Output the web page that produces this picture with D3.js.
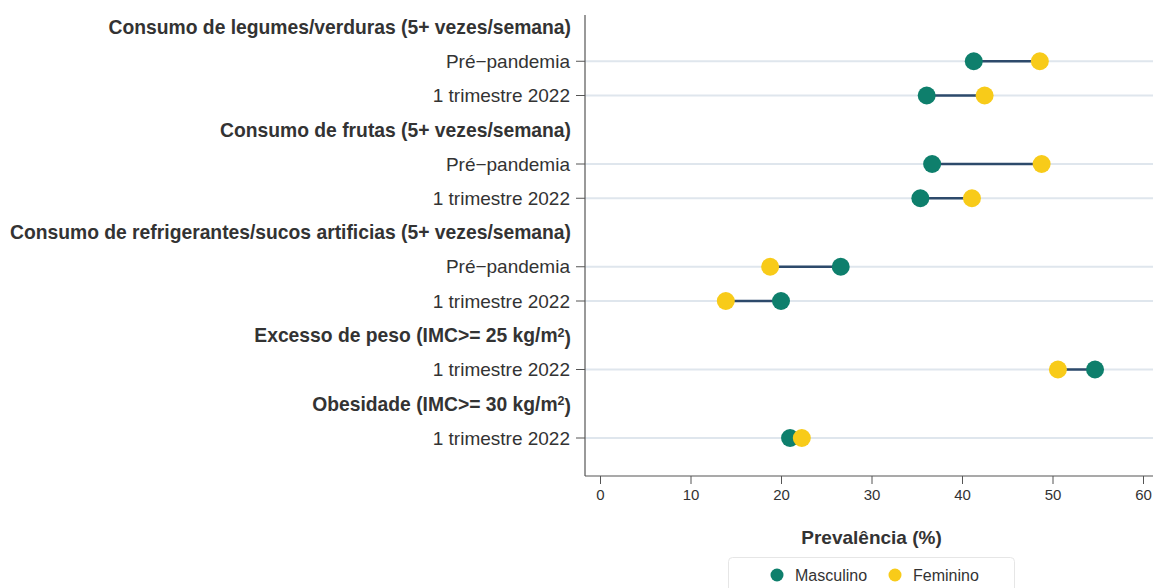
<!DOCTYPE html>
<html>
<head>
<meta charset="utf-8">
<script src="https://cdn.jsdelivr.net/npm/d3@7"></script>
<style>
  body { margin: 0; background: #fff; }
  text { font-family: "Liberation Sans", Arial, sans-serif; fill: #333; }
</style>
</head>
<body>
<svg width="1153" height="588"></svg>
<script>
// rows from top to bottom; headers have no values
const rowKeys = ["h1", "r1", "r2", "h2", "r3", "r4", "h3", "r5", "r6", "h4", "r7", "h5", "r8"];
const rowLabels = [
  "Consumo de legumes/verduras (5+ vezes/semana)", "Pré\u2212pandemia", "1 trimestre 2022",
  "Consumo de frutas (5+ vezes/semana)", "Pré\u2212pandemia", "1 trimestre 2022",
  "Consumo de refrigerantes/sucos artificias (5+ vezes/semana)", "Pré\u2212pandemia", "1 trimestre 2022",
  "Excesso de peso (IMC>= 25 kg/m²)", "1 trimestre 2022",
  "Obesidade (IMC>= 30 kg/m²)", "1 trimestre 2022"
];
const isHeader = [true, false, false, true, false, false, true, false, false, true, false, true, false];
const dataRows = ["r1", "r2", "r3", "r4", "r5", "r6", "r7", "r8"];
const masculino = [41.3, 36.1, 36.7, 35.4, 26.6, 20.0, 54.7, 21.0];
const feminino  = [48.6, 42.5, 48.8, 41.1, 18.8, 13.9, 50.6, 22.3];
const xTicks = [0, 10, 20, 30, 40, 50, 60];

const green = "#0e7f6c", yellow = "#f8cb19", segColor = "#2d4a6b";

const svg = d3.select("svg");
const xScale = d3.scaleLinear().domain([0, 60]).range([600, 1143]);
const yScale = d3.scalePoint().domain(rowKeys).range([27, 438]);
const left = 585, bottom = 476;

// gridlines for data rows
svg.selectAll("line.grid")
  .data(dataRows)
  .join("line")
  .attr("class", "grid")
  .attr("x1", left).attr("x2", 1153)
  .attr("y1", d => yScale(d)).attr("y2", d => yScale(d))
  .attr("stroke", "#dfe6ed")
  .attr("stroke-width", 2);

// y labels; the "²" is split off into a raised tspan
svg.selectAll("text.ylab")
  .data(rowKeys)
  .join("text")
  .attr("class", "ylab")
  .attr("x", (d, i) => isHeader[i] ? 571 : 570)
  .attr("y", d => yScale(d))
  .attr("dy", "0.35em")
  .attr("text-anchor", "end")
  .style("font-size", (d, i) => isHeader[i] ? "19.3px" : "19px")
  .style("font-weight", (d, i) => isHeader[i] ? "bold" : "normal")
  .each(function(d, i) {
    const parts = rowLabels[i].split("²");
    const t = d3.select(this);
    t.append("tspan").text(parts[0]);
    if (parts.length > 1) {
      t.append("tspan").attr("dy", "-0.4em").style("font-size", "0.65em").text("2");
      t.append("tspan").attr("dy", "0.4em").text(parts[1]);
    }
  });

// y ticks
svg.selectAll("line.ytick")
  .data(dataRows)
  .join("line")
  .attr("class", "ytick")
  .attr("x1", 576).attr("x2", left)
  .attr("y1", d => yScale(d)).attr("y2", d => yScale(d))
  .attr("stroke", "#555");

// axes lines
svg.append("line")
  .attr("x1", left).attr("x2", left).attr("y1", 15).attr("y2", bottom)
  .attr("stroke", "#555").attr("stroke-width", 1.2);

let xAxis = d3.axisBottom(xScale).tickValues(xTicks).tickSizeInner(8).tickSizeOuter(0).tickPadding(5);
const xAxisG = svg.append("g")
  .attr("id", "xAxisG")
  .attr("transform", `translate(0, ${bottom})`)
  .call(xAxis);
xAxisG.select(".domain").remove();
xAxisG.selectAll(".tick line").attr("stroke", "#555");
xAxisG.selectAll(".tick text").style("font-size", "15px").attr("fill", "#333");
svg.append("line")
  .attr("x1", left).attr("x2", 1153).attr("y1", bottom).attr("y2", bottom)
  .attr("stroke", "#555").attr("stroke-width", 1.2);

svg.append("text")
  .attr("x", xScale(30)).attr("y", 537)
  .attr("dy", "0.35em")
  .attr("text-anchor", "middle")
  .style("font-size", "19px").style("font-weight", "bold")
  .text("Prevalência (%)");

// segments
svg.selectAll("line.seg")
  .data(dataRows)
  .join("line")
  .attr("class", "seg")
  .attr("x1", (d, i) => xScale(masculino[i]))
  .attr("x2", (d, i) => xScale(feminino[i]))
  .attr("y1", d => yScale(d)).attr("y2", d => yScale(d))
  .attr("stroke", segColor).attr("stroke-width", 2.5);

svg.selectAll("circle.masc")
  .data(dataRows)
  .join("circle")
  .attr("class", "masc")
  .attr("cx", (d, i) => xScale(masculino[i]))
  .attr("cy", d => yScale(d))
  .attr("r", 9)
  .style("fill", green);

svg.selectAll("circle.fem")
  .data(dataRows)
  .join("circle")
  .attr("class", "fem")
  .attr("cx", (d, i) => xScale(feminino[i]))
  .attr("cy", d => yScale(d))
  .attr("r", 9)
  .style("fill", yellow);

// legend
const legend = svg.append("g");
legend.append("rect")
  .attr("x", 728.5).attr("y", 557.5).attr("width", 286).attr("height", 40).attr("rx", 4)
  .attr("fill", "#fff").attr("stroke", "#e6e6e6");
const legItems = [["Masculino", green, 777], ["Feminino", yellow, 895]];
legend.selectAll("circle")
  .data(legItems)
  .join("circle")
  .attr("cx", d => d[2]).attr("cy", 575).attr("r", 6.5)
  .style("fill", d => d[1]);
legend.selectAll("text")
  .data(legItems)
  .join("text")
  .attr("x", d => d[2] + 18).attr("y", 575).attr("dy", "0.35em")
  .style("font-size", "16px")
  .text(d => d[0]);
</script>
</body>
</html>
